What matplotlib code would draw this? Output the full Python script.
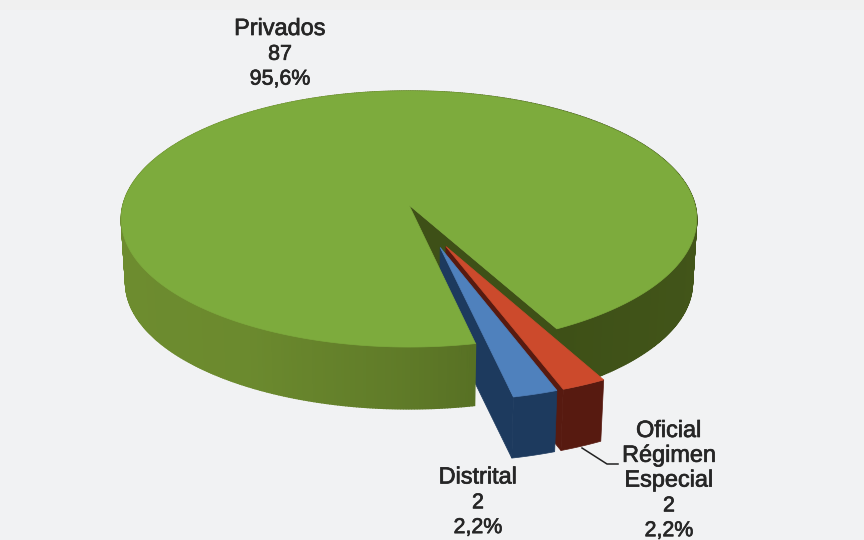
import matplotlib
matplotlib.use('Agg')
import matplotlib.pyplot as plt
import matplotlib.patheffects as pe
from matplotlib.colors import to_rgb
from matplotlib.patches import Polygon, Rectangle
import numpy as np

# datos
names = ['Distrital', 'Oficial\nRégimen\nEspecial', 'Privados']
counts = [2, 2, 87]
pct_labels = ['2,2%', '2,2%', '95,6%']
explode = [0.34, 0.34, 0.0]

top_colors = ['#4f81bd', '#cc4a2c', '#7dab3d']
side_colors = ['#1d3a5e', '#571a10', '#3e5017']

start_angle = 12.0   # angulo desde el frente, hacia la derecha
explode_dirs = [18.0, 21.5, 0.0]
radii = [1.0, 1.0, 1.0]
cx, cy = 409, 205    # centro del pastel en pixeles
rx, ry = 286, 126.5
persp = 0.1094
depth = 64
shrink = 0.985

plt.rcParams['font.family'] = ['Liberation Sans', 'DejaVu Sans']


def project(u, v):
    s = 1 / (1 - persp * v)
    return cx + rx * u * s, cy + ry * v * s


def lower(x, y):
    return cx + (x - cx) * shrink, cy + (y - cy) * shrink + depth


def wedge_points(a0, a1, ex, direction, r):
    d = np.radians(direction)
    ou, ov = ex * np.sin(d), ex * np.cos(d)
    t = np.radians(np.linspace(a0, a1, max(int(a1 - a0) * 2, 8)))
    return project(ou, ov), project(ou + r * np.sin(t), ov + r * np.cos(t))


def green_shade(x):
    level = np.interp(x, [120, 250, 400, 473, 560, 697], [1.0, 0.96, 0.72, 0.55, 0.0, 0.08])
    return np.array(to_rgb(side_colors[2])) + level * (np.array(to_rgb('#6d8c2f')) - np.array(to_rgb(side_colors[2])))


def draw_green_walls(ax, pts, keep):
    (ax0, ay0), (xs, ys) = pts
    lx, ly = lower(xs, ys)
    for i in range(len(xs) - 1):
        mx = (xs[i] + xs[i + 1]) / 2
        if not keep(i):
            continue
        c = green_shade(mx)
        ax.add_patch(Polygon([(xs[i], ys[i]), (xs[i + 1], ys[i + 1]), (lx[i + 1], ly[i + 1]), (lx[i], ly[i])],
                             closed=True, facecolor=c, edgecolor=c, linewidth=1.0))


def draw_front(ax, pts, side):
    (ax0, ay0), (xs, ys) = pts
    lx, ly = lower(xs, ys)
    ax.add_patch(Polygon(np.column_stack([np.r_[xs, lx[::-1]], np.r_[ys, ly[::-1]]]), closed=True,
                         facecolor=side, edgecolor=side, linewidth=0.5))


def draw_inner_wall(ax, pts, side):
    (ax0, ay0), (xs, ys) = pts
    lx, ly = lower(xs, ys)
    lax, lay = lower(ax0, ay0)
    ax.add_patch(Polygon([(ax0, ay0), (xs[0], ys[0]), (lx[0], ly[0]), (lax, lay)], closed=True,
                         facecolor=side, edgecolor=side, linewidth=0.5))


def draw_top(ax, pts, top):
    (ax0, ay0), (xs, ys) = pts
    ax.add_patch(Polygon(np.column_stack([np.r_[ax0, xs], np.r_[ay0, ys]]), closed=True,
                         facecolor=top, edgecolor=top, linewidth=0.5))


fig = plt.figure(figsize=(8.64, 5.4), dpi=100, facecolor='#f1f2f3')
ax = fig.add_axes([0, 0, 1, 1])
ax.set_xlim(0, 864)
ax.set_ylim(540, 0)
ax.axis('off')
ax.add_patch(Rectangle((0, 0), 864, 10, facecolor='#f0f0f0', edgecolor='none'))

shares = np.array(counts) / sum(counts) * 360
edges = start_angle + np.r_[0, np.cumsum(shares)]

blue = wedge_points(edges[0], edges[1], explode[0], explode_dirs[0], radii[0])
red = wedge_points(edges[1], edges[2], explode[1], explode_dirs[1], radii[1])
green = wedge_points(edges[2], edges[3], explode[2], explode_dirs[2], radii[2])

# el orden importa: la parte izquierda de Privados tapa la pared azul
n_half = len(green[1][0]) // 2
draw_green_walls(ax, green, lambda i: i < n_half)
draw_inner_wall(ax, green, side_colors[2])
draw_inner_wall(ax, red, side_colors[1])
draw_front(ax, red, side_colors[1])
draw_inner_wall(ax, blue, side_colors[0])
draw_front(ax, blue, side_colors[0])
draw_green_walls(ax, green, lambda i: i >= n_half)
draw_top(ax, green, top_colors[2])
draw_top(ax, red, top_colors[1])
draw_top(ax, blue, top_colors[0])

# linea guia
ax.plot([582, 607, 618], [448, 464, 464], color='#222222', lw=1.1)

stroke = [pe.withStroke(linewidth=0.5, foreground='#262626')]
first_baseline = [483.5, 437, 35]
text_x = [478, 669, 280]
line_step = 24.8
for name, n, p, tx, ty in zip(names, counts, pct_labels, text_x, first_baseline):
    name_lines = name.split('\n')
    for k, line in enumerate(name_lines):
        ax.text(tx, ty + k * line_step, line, ha='center', va='baseline', fontsize=16.9,
                color='#262626', path_effects=stroke)
    k = len(name_lines)
    ax.text(tx, ty + k * line_step, str(n), ha='center', va='baseline', fontsize=15.4,
            color='#262626', path_effects=stroke)
    ax.text(tx, ty + (k + 1) * line_step, p, ha='center', va='baseline', fontsize=15.4,
            color='#262626', path_effects=stroke)

fig.savefig('out.png', dpi=100, facecolor=fig.get_facecolor())
